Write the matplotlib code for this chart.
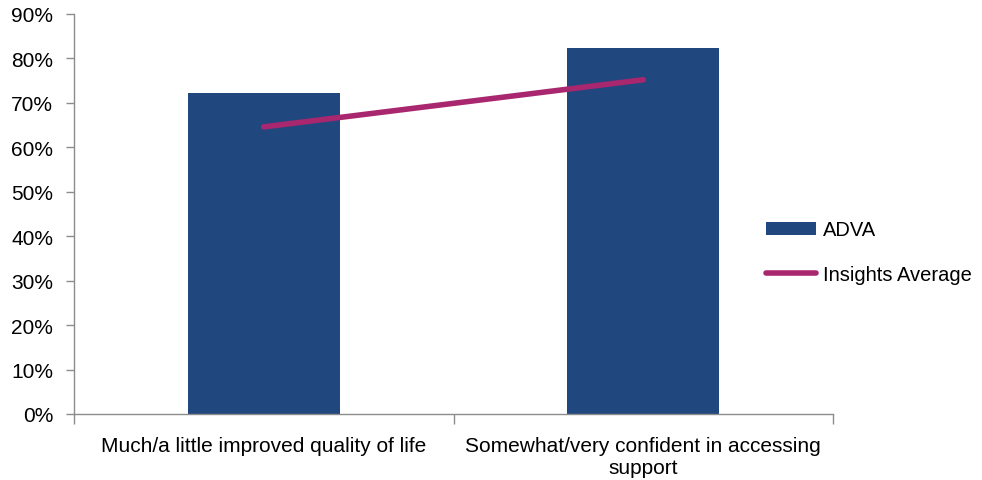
import matplotlib
matplotlib.use("Agg")
import matplotlib.pyplot as plt
from matplotlib.ticker import PercentFormatter, FixedLocator

plt.rcParams['font.family'] = ['Liberation Sans', 'DejaVu Sans']

categories = ["Much/a little improved quality of life",
              "Somewhat/very confident in accessing\nsupport"]
adva = [72.3, 82.4]
insights_avg = [64.6, 75.2]

bar_color = "#21477F"
line_color = "#A8276F"
axis_color = "#8C8C8C"

fig = plt.figure(figsize=(9.82, 4.81), dpi=100)
ax = fig.add_axes([74 / 982, 1 - 415 / 481, (833 - 74) / 982, 400 / 481])

x = list(range(len(categories)))
bars = ax.bar(x, adva, width=0.4, color=bar_color, label="ADVA", zorder=2)
line, = ax.plot(x, insights_avg, color=line_color, linewidth=4, solid_capstyle="round",
                label="Insights Average", zorder=3)

ax.set_xlim(-0.5, len(categories) - 0.5)
ax.set_ylim(0, 90)
ax.set_yticks(range(0, 91, 10))
ax.yaxis.set_major_formatter(PercentFormatter(decimals=0))
ax.set_xticks(x)
ax.set_xticklabels(categories, fontsize=15, multialignment="center", linespacing=1.2)
ax.tick_params(axis="x", length=0, pad=16)
ax.xaxis.set_minor_locator(FixedLocator([-0.5, 0.5, 1.5]))
ax.tick_params(axis="x", which="minor", length=7, color=axis_color, width=1)
ax.tick_params(axis="y", length=6, color=axis_color, labelsize=15, width=1, pad=9)

for side in ("top", "right"):
    ax.spines[side].set_visible(False)
for side in ("left", "bottom"):
    ax.spines[side].set_color(axis_color)
    ax.spines[side].set_linewidth(1)

fig.legend([bars, line], ["ADVA", "Insights Average"],
           loc="center left", bbox_to_anchor=(748 / 982, 1 - 253 / 481),
           frameon=False, fontsize=14.5, handlelength=2.5, handleheight=0.6,
           handletextpad=0.3, labelspacing=1.25)

fig.savefig("out.png", dpi=100)
